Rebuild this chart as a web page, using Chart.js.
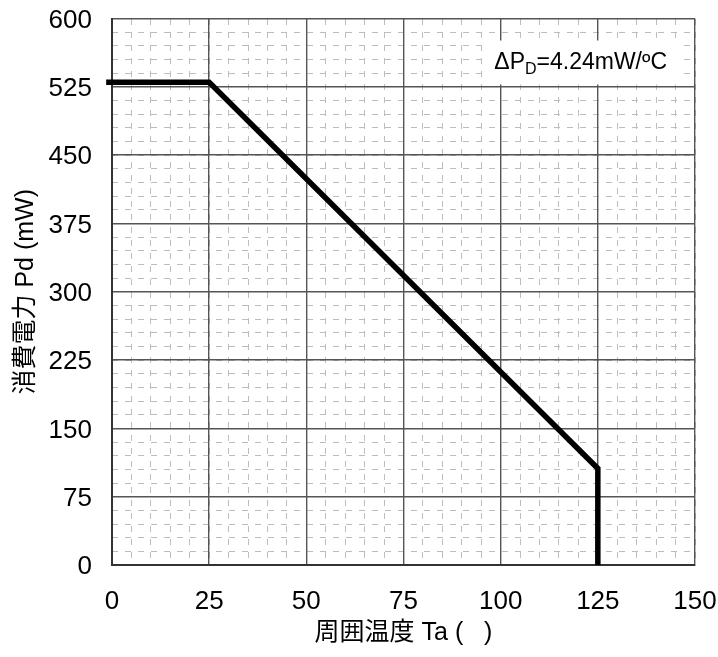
<!DOCTYPE html>
<html>
<head>
<meta charset="utf-8">
<script src="https://cdn.jsdelivr.net/npm/chart.js@4/dist/chart.umd.min.js"></script>
<style>
    html, body { margin: 0; padding: 0; background: #fff; }
    #chart-container { width: 718px; height: 657px; }
</style>
</head>
<body>
<div id="chart-container"><canvas id="chart"></canvas></div>
<script>
// derating curve: ambient temperature (C) vs allowed power dissipation (mW)
const temperature = [-1.5, 25, 125, 125];
const power = [530, 530, 106, 0];

const xMajorStep = 25;
const xMinorStep = 5;
const yMajorStep = 75;
const yMinorStep = 15;

const xLabel = "周囲温度 Ta (\u00a0\u00a0\u00a0)";
const yLabel = "消費電力 Pd (mW)";

const tickFont = { family: "'Liberation Sans', Arial, sans-serif", size: 26 };
const titleFont = { family: "'Liberation Sans', 'Noto Sans CJK JP', sans-serif", size: 25 };

// keep edge labels from pushing the plot area inward
function fixSize(prop, value){
    return function(scale){
        scale[prop] = value;
        scale.paddingTop = 0;
        scale.paddingBottom = 0;
        scale.paddingLeft = 0;
        scale.paddingRight = 0;
    };
}

// white box with the slope note in the upper right corner
const deltaNote = {
    id: "deltaNote",
    beforeDatasetsDraw(chart){
        const ctx = chart.ctx;
        const area = chart.chartArea;
        const big = "23px 'Liberation Sans', Arial, sans-serif";
        const small = "16px 'Liberation Sans', Arial, sans-serif";

        ctx.save();
        ctx.font = big;
        const w1 = ctx.measureText("ΔP").width;
        const w3 = ctx.measureText("=4.24mW/ºC").width;
        ctx.font = small;
        const w2 = ctx.measureText("D").width;
        const total = w1 + w2 + w3;

        const right = area.right - 17;
        const top = area.top + 22;
        const boxW = total + 18;
        const boxH = 44;
        const left = right - boxW;

        ctx.fillStyle = "#fff";
        ctx.fillRect(left, top, boxW, boxH);

        const base = top + 28;
        let x = left + 7;
        ctx.fillStyle = "#000";
        ctx.textBaseline = "alphabetic";
        ctx.textAlign = "left";
        ctx.font = big;
        ctx.fillText("ΔP", x, base);
        x += w1;
        ctx.font = small;
        ctx.fillText("D", x, base + 5);
        x += w2;
        ctx.font = big;
        ctx.fillText("=4.24mW/ºC", x, base);
        ctx.restore();
    }
};

const ctx = document.getElementById("chart").getContext("2d");

new Chart(ctx, {
    type: "line",
    data: {
        datasets: [{
            data: temperature.map((t, i) => ({ x: t, y: power[i] })),
            borderColor: "#000",
            borderWidth: 5.5,
            pointRadius: 0,
            tension: 0,
            clip: false,
            borderJoinStyle: "miter"
        }]
    },
    options: {
        responsive: true,
        maintainAspectRatio: false,
        animation: false,
        layout: { padding: { top: 18.5, right: 23, left: 0, bottom: 0 } },
        plugins: {
            legend: { display: false },
            tooltip: { enabled: false }
        },
        scales: {
            x: {
                type: "linear",
                position: "bottom",
                min: 0,
                max: 150,
                ticks: { stepSize: xMajorStep, color: "#000", font: tickFont, padding: 21, maxRotation: 0 },
                grid: { color: "#555", lineWidth: 1.4, drawTicks: false },
                border: { color: "#333", width: 2 },
                title: { display: true, text: xLabel, color: "#000", font: titleFont, padding: { top: 0, bottom: 9 } },
                afterFit: fixSize("height", 92)
            },
            y: {
                type: "linear",
                position: "left",
                min: 0,
                max: 600,
                ticks: { stepSize: yMajorStep, color: "#000", font: tickFont, padding: 20, labelOffset: 2 },
                grid: { color: "#555", lineWidth: 1.4, drawTicks: false },
                border: { color: "#333", width: 2 },
                title: { display: true, text: yLabel, color: "#000", font: titleFont, padding: { top: 11, bottom: 0 } },
                afterFit: fixSize("width", 112)
            },
            xMinor: {
                type: "linear",
                position: "top",
                min: 0,
                max: 150,
                ticks: { stepSize: xMinorStep, display: false },
                grid: { color: "#bdbdbd", lineWidth: 1, drawTicks: false, z: -2 },
                border: { display: false, dash: [6, 7] },
                afterFit: fixSize("height", 0)
            },
            yMinor: {
                type: "linear",
                position: "right",
                min: 0,
                max: 600,
                ticks: { stepSize: yMinorStep, display: false },
                grid: { color: "#bdbdbd", lineWidth: 1, drawTicks: false, z: -2 },
                border: { display: false, dash: [6, 7] },
                afterFit: fixSize("width", 0)
            }
        }
    },
    plugins: [deltaNote]
});
</script>
</body>
</html>
